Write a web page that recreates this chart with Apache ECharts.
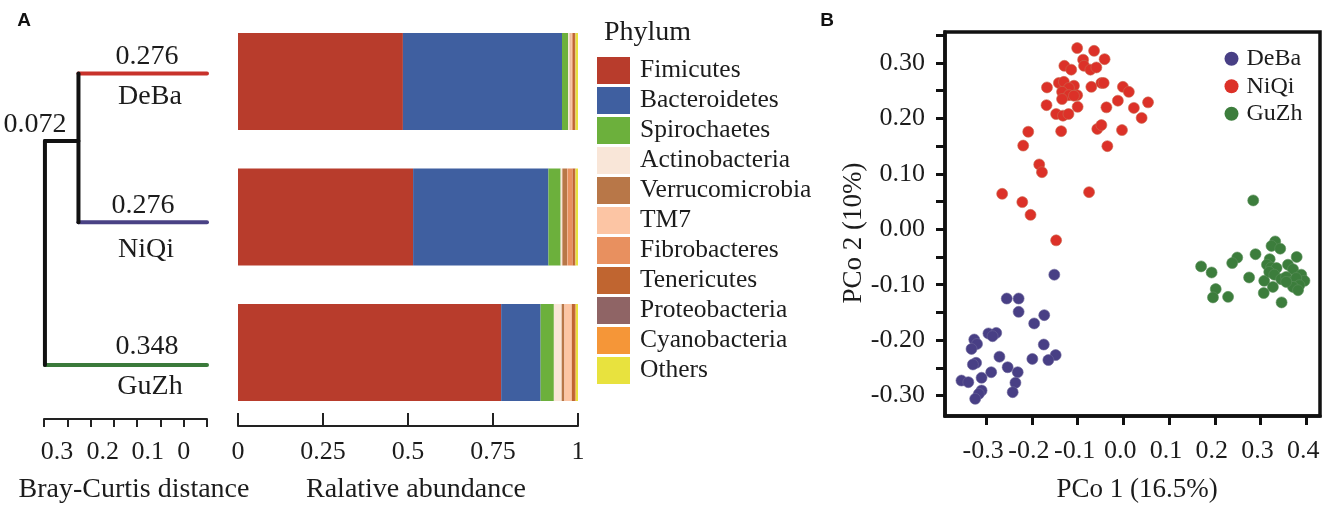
<!DOCTYPE html>
<html><head><meta charset="utf-8">
<style>html,body{margin:0;padding:0;background:#fff}#c{width:1325px;height:510px}</style>
<script src="https://cdn.jsdelivr.net/npm/echarts@6/dist/echarts.min.js"></script>
</head><body><div id="c"></div>
<script>
const SERIF='"Liberation Serif","Times New Roman",serif';
const INK='#1c1c1c';
// Panel A: stacked abundance
const sites=['DeBa','NiQi','GuZh'];
const phyla=['Fimicutes','Bacteroidetes','Spirochaetes','Actinobacteria','Verrucomicrobia','TM7','Fibrobacteres','Tenericutes','Proteobacteria','Cyanobacteria','Others'];
const phylaColors=['#b83c2c','#3f5fa0','#6cb03c','#f9e6d8','#b87748','#fcc5a4','#e8905f','#c06530','#8f6465','#f59638','#e8e23e'];
const fimicutes=[.485,.515,.774];
const bacteroidetes=[.468,.398,.116];
const spirochaetes=[.018,.036,.039];
const actinobacteria=[.005,.005,.023];
const verrucomicrobia=[.002,.014,.008];
const tm7=[.004,.001,.021];
const fibrobacteres=[.002,.015,.001];
const tenericutes=[.007,.007,.009];
const proteobacteria=[.001,.001,.001];
const cyanobacteria=[.001,.001,.002];
const others=[.007,.007,.006];
const phylaValues=[fimicutes,bacteroidetes,spirochaetes,actinobacteria,verrucomicrobia,tm7,fibrobacteres,tenericutes,proteobacteria,cyanobacteria,others];
// Panel A: dendrogram (distance, leaf position)
const branchDeBa=[[.276,3.58],[0,3.58]];
const branchNiQi=[[.276,2.04],[0,2.04]];
const branchGuZh=[[.348,.56],[0,.56]];
const trunkInner=[[.276,3.58],[.276,2.04]];
const trunkJoin=[[.348,2.88],[.276,2.88]];
const trunkOuter=[[.348,2.88],[.348,.56]];
const distTicks=[0,.05,.1,.15,.2,.25,.3,.35];
const distLabelAt=[.322,.224,.127,.05];
const distLabels=['0.3','0.2','0.1','0'];
// Panel B: PCoA
const deba=[[-.151,-.082],[-.255,-.125],[-.229,-.125],[-.229,-.149],[-.173,-.155],[-.195,-.170],[-.295,-.188],[-.278,-.187],[-.286,-.193],[-.174,-.208],[-.326,-.199],[-.320,-.207],[-.332,-.216],[-.271,-.230],[-.199,-.234],[-.148,-.227],[-.164,-.236],[-.322,-.241],[-.329,-.244],[-.253,-.249],[-.289,-.258],[-.231,-.258],[-.310,-.268],[-.354,-.273],[-.339,-.276],[-.236,-.277],[-.310,-.291],[-.316,-.297],[-.242,-.294],[-.324,-.306]];
const niqi=[[-.101,.327],[-.064,.322],[-.041,.307],[-.088,.306],[-.086,.295],[-.072,.288],[-.059,.292],[-.129,.295],[-.114,.288],[-.167,.256],[-.141,.264],[-.130,.266],[-.108,.259],[-.119,.255],[-.134,.248],[-.119,.242],[-.101,.242],[-.134,.235],[-.108,.241],[-.070,.257],[-.048,.264],[-.043,.264],[-.168,.224],[-.100,.221],[-.037,.220],[-.147,.208],[-.132,.205],[-.120,.208],[-.057,.181],[-.048,.188],[-.136,.177],[-.208,.176],[-.219,.151],[-.035,.150],[-.184,.117],[-.178,.103],[-.265,.064],[-.075,.067],[-.221,.049],[-.203,.026],[-.147,-.020],[-.001,.257],[.012,.248],[-.012,.232],[.023,.219],[.054,.229],[.040,.201],[-.003,.179]];
const guzh=[[.284,.052],[.332,-.022],[.324,-.030],[.343,-.035],[.379,-.050],[.289,-.045],[.249,-.051],[.238,-.061],[.170,-.067],[.193,-.078],[.275,-.087],[.202,-.108],[.196,-.123],[.229,-.122],[.308,-.093],[.327,-.104],[.307,-.115],[.346,-.132],[.320,-.054],[.314,-.064],[.323,-.069],[.335,-.070],[.319,-.077],[.330,-.082],[.345,-.090],[.360,-.064],[.371,-.072],[.356,-.086],[.367,-.095],[.389,-.082],[.396,-.093],[.378,-.088],[.385,-.101],[.371,-.104],[.382,-.110],[.356,-.095]];
const pcoXTicks=[-.3,-.2,-.1,0,.1,.2,.3,.4];
const pcoYTicks=[-.3,-.25,-.2,-.15,-.1,-.05,0,.05,.1,.15,.2,.25,.3,.35];
const pcoYLabels=[-.3,-.2,-.1,0,.1,.2,.3];

function txt(x,y,s,size,extra){return {type:'text',x,y,style:Object.assign({text:s,fill:INK,font:size+'px '+SERIF,align:'center',verticalAlign:'middle'},extra||{})};}
function branch(data,color,z){return {type:'line',xAxisIndex:0,yAxisIndex:0,data,symbol:'none',silent:true,z:z||3,lineStyle:{color,width:4,cap:'round'}};}

const chart=echarts.init(document.getElementById('c'));
chart.setOption({
 animation:false,backgroundColor:'#fff',
 textStyle:{fontFamily:SERIF,color:INK},
 grid:[
  {left:44,top:33,width:163,height:386,show:false,outerBoundsMode:'none'},
  {left:238,top:13.75,width:340,height:406.5,show:false,outerBoundsMode:'none'},
  {left:945,top:32,width:375,height:384,show:true,borderColor:'#111',borderWidth:3.5,backgroundColor:'#fff',outerBoundsMode:'none'}
 ],
 xAxis:[
  {gridIndex:0,type:'value',inverse:true,min:0,max:.35,interval:.05,splitLine:{show:false},
   axisLine:{show:true,onZero:false,lineStyle:{color:'#222',width:2}},
   axisTick:{show:true,customValues:distTicks,length:8,lineStyle:{color:'#222',width:2}},
   axisLabel:{customValues:distLabelAt,margin:20,fontSize:26,color:INK,fontFamily:SERIF,formatter:v=>{const i=distLabelAt.indexOf(v);return i<0?'':distLabels[i];}},
   name:'Bray-Curtis distance',nameLocation:'middle',nameGap:57,nameTextStyle:{fontSize:28,color:INK,fontFamily:SERIF,padding:[0,0,0,17]}},
  {gridIndex:1,type:'value',min:0,max:1,interval:.25,offset:5.75,splitLine:{show:false},
   axisLine:{show:true,onZero:false,lineStyle:{color:'#222',width:2}},
   axisTick:{show:true,inside:true,length:13,lineStyle:{color:'#222',width:2}},
   axisLabel:{margin:13,fontSize:26,color:INK,fontFamily:SERIF,formatter:v=>String(v)},
   name:'Ralative abundance',nameLocation:'middle',nameGap:50,nameTextStyle:{fontSize:28,color:INK,fontFamily:SERIF,padding:[0,0,0,16]}},
  {gridIndex:2,type:'value',min:-.39,max:.43,splitLine:{show:false},
   axisLine:{show:true,onZero:false,lineStyle:{color:'#111',width:3.5}},
   axisTick:{show:true,customValues:pcoXTicks,length:9,lineStyle:{color:'#111',width:3}},
   axisLabel:{customValues:pcoXTicks,margin:22,fontSize:26,color:INK,fontFamily:SERIF,padding:[0,6,0,0],formatter:v=>v.toFixed(1)},
   name:'PCo 1 (16.5%)',nameLocation:'middle',nameGap:60,nameTextStyle:{fontSize:27,color:INK,fontFamily:SERIF,padding:[0,0,0,9]}}
 ],
 yAxis:[
  {gridIndex:0,type:'value',min:.0,max:4,show:false},
  {gridIndex:1,type:'category',inverse:true,data:sites,show:false},
  {gridIndex:2,type:'value',min:-.337,max:.356,splitLine:{show:false},
   axisLine:{show:true,onZero:false,lineStyle:{color:'#111',width:3.5}},
   axisTick:{show:true,customValues:pcoYTicks,length:9,lineStyle:{color:'#111',width:3}},
   axisLabel:{customValues:pcoYLabels,margin:20,fontSize:26,color:INK,fontFamily:SERIF,formatter:v=>v.toFixed(2)},
   name:'PCo 2 (10%)',nameLocation:'middle',nameGap:70,nameTextStyle:{fontSize:27,color:INK,fontFamily:SERIF,padding:[0,18,0,0]}}
 ],
 legend:[
  {data:phyla,left:597,top:57,padding:0,orient:'vertical',icon:'rect',itemWidth:33,itemHeight:27,itemGap:3,selectedMode:false,
   textStyle:{fontSize:25.5,color:INK,fontFamily:SERIF,padding:[2,0,0,5]}},
  {data:['DeBa','NiQi','GuZh'],left:1224.5,top:45,padding:0,orient:'vertical',icon:'circle',itemWidth:14,itemHeight:14,itemGap:0,selectedMode:false,
   itemStyle:{borderWidth:0},
   textStyle:{fontSize:24,color:INK,fontFamily:SERIF,lineHeight:27.5,height:27.5,padding:[0,0,0,3]}}
 ],
 graphic:[
  txt(24,21,'A',19,{font:'bold 19px "Liberation Sans",Arial,sans-serif',fill:'#111'}),
  txt(827,21,'B',19,{font:'bold 19px "Liberation Sans",Arial,sans-serif',fill:'#111'}),
  txt(147,57,'0.276',28),txt(150,97,'DeBa',28),
  txt(143,206,'0.276',28),txt(146,250,'NiQi',28),
  txt(147,347,'0.348',28),txt(150,387,'GuZh',28),
  txt(35,125,'0.072',28),
  txt(604,33,'Phylum',28,{align:'left'})
 ],
 series:[
  branch(branchDeBa,'#c8322b',2),branch(branchNiQi,'#4a4285',2),branch(branchGuZh,'#3a7a3a',2),
  branch(trunkInner,'#111'),branch(trunkJoin,'#111'),branch(trunkOuter,'#111'),
  ...phyla.map((name,i)=>({type:'bar',name,xAxisIndex:1,yAxisIndex:1,stack:'abundance',barWidth:97,data:phylaValues[i],itemStyle:{color:phylaColors[i]},silent:true})),
  {type:'scatter',name:'DeBa',xAxisIndex:2,yAxisIndex:2,data:deba,symbolSize:11,itemStyle:{color:'#483f85',opacity:1,borderColor:'#6a6398',borderWidth:.6},silent:true,z:4},
  {type:'scatter',name:'NiQi',xAxisIndex:2,yAxisIndex:2,data:niqi,symbolSize:11,itemStyle:{color:'#dc3128',opacity:1,borderColor:'#c96a50',borderWidth:.6},silent:true,z:4},
  {type:'scatter',name:'GuZh',xAxisIndex:2,yAxisIndex:2,data:guzh,symbolSize:11,itemStyle:{color:'#3c7d3c',opacity:1,borderColor:'#5a8f5a',borderWidth:.6},silent:true,z:4}
 ]
});
</script></body></html>
